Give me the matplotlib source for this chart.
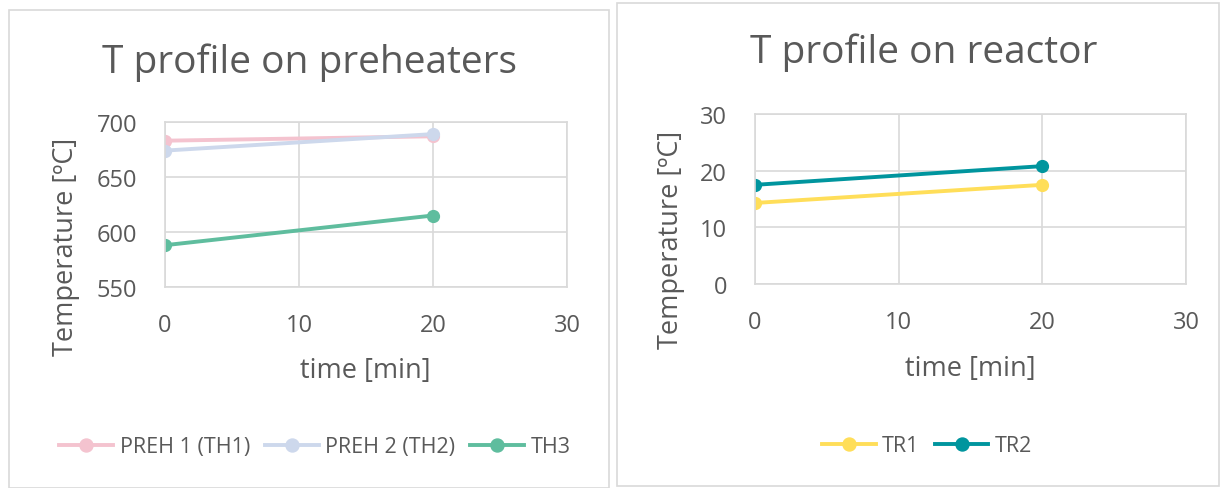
import matplotlib
matplotlib.use("Agg")
import matplotlib.pyplot as plt
from matplotlib.patches import Rectangle

plt.rcParams['font.family'] = ['Open Sans', 'DejaVu Sans']

# Data
time_min = [0, 20]
preh1 = [683, 687]
preh2 = [674, 689]
th3 = [588, 615]
tr1 = [14.3, 17.5]
tr2 = [17.5, 20.8]

left_labels = ["PREH 1 (TH1)", "PREH 2 (TH2)", "TH3"]
right_labels = ["TR1", "TR2"]
left_colors = ["#F4C3CF", "#CDD8EC", "#5FBD9E"]
right_colors = ["#FFDE59", "#00959E"]

TXT = "#595959"
GRID = "#D9D9D9"

W, H = 1224, 489
fig = plt.figure(figsize=(W / 100, H / 100), dpi=100)

def fx(x):
    return x / W

def fy(y):
    return 1 - y / H

# panel borders
fig.patches.append(Rectangle((fx(9), fy(489)), fx(600), (489 - 11) / H, transform=fig.transFigure,
                             fill=False, edgecolor=GRID, linewidth=1.2))
fig.patches.append(Rectangle((fx(617), fy(487)), fx(602), (487 - 4) / H, transform=fig.transFigure,
                             fill=False, edgecolor=GRID, linewidth=1.2))

def style_ax(ax, ylim, yticks):
    ax.set_xlim(0, 30)
    ax.set_xticks([0, 10, 20, 30])
    ax.set_ylim(*ylim)
    ax.set_yticks(yticks)
    ax.grid(True, color=GRID, linewidth=1.2)
    ax.set_axisbelow(True)
    for s in ax.spines.values():
        s.set_color(GRID)
        s.set_linewidth(1.2)
    ax.tick_params(axis='both', length=0, labelsize=17, colors=TXT)
    ax.tick_params(axis='x', pad=19)
    ax.tick_params(axis='y', pad=20)

ax1 = fig.add_axes([fx(165), fy(288), fx(567 - 165), (288 - 123) / H])
for vals, c, lab in zip([preh1, preh2, th3], left_colors, left_labels):
    ax1.plot(time_min, vals, color=c, lw=2.8, marker='o', ms=8.5, label=lab)
style_ax(ax1, (550, 700), [550, 600, 650, 700])

ax2 = fig.add_axes([fx(755), fy(285), fx(1186 - 755), (285 - 115) / H])
for vals, c, lab in zip([tr1, tr2], right_colors, right_labels):
    ax2.plot(time_min, vals, color=c, lw=2.8, marker='o', ms=8.5, label=lab)
style_ax(ax2, (0, 30), [0, 10, 20, 30])

# titles
fig.text(fx(309), fy(63), "T profile on preheaters", ha='center', va='center', fontsize=28, color=TXT)
fig.text(fx(924), fy(53), "T profile on reactor", ha='center', va='center', fontsize=28, color=TXT)

# axis labels
fig.text(fx(365), fy(371), "time [min]", ha='center', va='center', fontsize=19.5, color=TXT)
fig.text(fx(970), fy(369), "time [min]", ha='center', va='center', fontsize=19.5, color=TXT)
fig.text(fx(66), fy(247), "Temperature [ºC]", ha='center', va='center', rotation=90, fontsize=19.5, color=TXT)
fig.text(fx(671), fy(240), "Temperature [ºC]", ha='center', va='center', rotation=90, fontsize=19.5, color=TXT)

# legends
h1, l1 = ax1.get_legend_handles_labels()
fig.legend(h1, l1, loc='center', bbox_to_anchor=(fx(315), fy(448)), ncol=3, frameon=False,
           fontsize=15.5, labelcolor=TXT, handlelength=2.5, handletextpad=0.3, columnspacing=0.7,
           markerscale=1.1)
h2, l2 = ax2.get_legend_handles_labels()
fig.legend(h2, l2, loc='center', bbox_to_anchor=(fx(927), fy(447)), ncol=2, frameon=False,
           fontsize=15.5, labelcolor=TXT, handlelength=2.5, handletextpad=0.3, columnspacing=0.7,
           markerscale=1.1)

fig.savefig("out.png", dpi=100, facecolor='white')
